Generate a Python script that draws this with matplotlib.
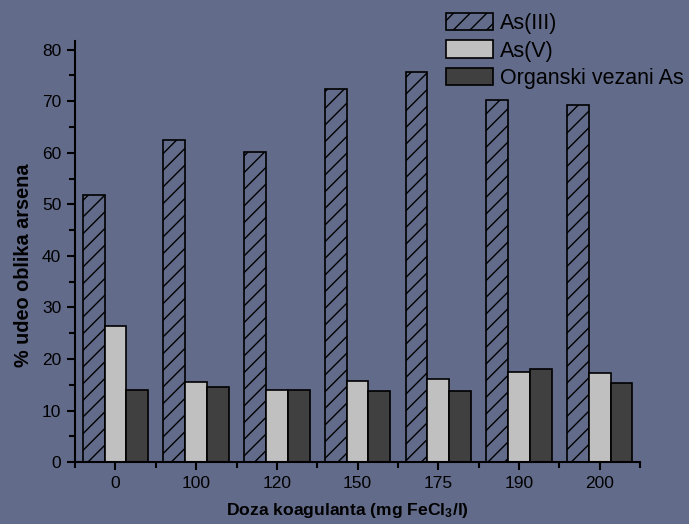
import matplotlib
matplotlib.use('Agg')
import matplotlib.pyplot as plt
import numpy as np
from matplotlib.ticker import MultipleLocator

plt.rcParams['font.family'] = ['Liberation Sans', 'DejaVu Sans']
plt.rcParams['mathtext.default'] = 'regular'
plt.rcParams['hatch.linewidth'] = 1.0

bg = '#626B8A'

doses = ['0', '100', '120', '150', '175', '190', '200']
as3 = [51.9, 62.4, 60.1, 72.3, 75.6, 70.2, 69.2]
as5 = [26.5, 15.5, 14.0, 15.8, 16.2, 17.4, 17.3]
org = [13.9, 14.6, 14.0, 13.8, 13.8, 18.0, 15.4]
labels = ['As(III)', 'As(V)', 'Organski vezani As']

fig = plt.figure(figsize=(6.89, 5.24), dpi=100, facecolor=bg)
ax = fig.add_axes([0.109, 0.118, 0.820, 0.804], facecolor=bg)

x = np.arange(len(doses))
w = 0.27
ax.bar(x - w, as3, w, facecolor='none', edgecolor='black', hatch='//', linewidth=1.2, label=labels[0])
ax.bar(x, as5, w, facecolor='#C0C0C0', edgecolor='black', linewidth=1.2, label=labels[1])
ax.bar(x + w, org, w, facecolor='#404040', edgecolor='black', linewidth=1.2, label=labels[2])

ax.set_xlim(-0.5, 6.5)
ax.set_ylim(0, 81.7)
ax.set_xticks(x)
ax.set_xticklabels(doses)
ax.set_xticks(np.arange(-0.5, 7, 1), minor=True)
ax.yaxis.set_major_locator(MultipleLocator(10))
ax.yaxis.set_minor_locator(MultipleLocator(5))

for s in ['top', 'right']:
    ax.spines[s].set_visible(False)
for s in ['left', 'bottom']:
    ax.spines[s].set_linewidth(1.5)
    ax.spines[s].set_color('black')

ax.tick_params(which='major', direction='out', length=6, width=1.5, labelsize=12.5, colors='black', pad=4)
ax.tick_params(which='minor', direction='out', length=4, width=1.5, colors='black')

ax.set_xlabel('Doza koagulanta (mg FeCl$_3$/l)', fontsize=12.6, fontweight='bold')
ax.set_ylabel('% udeo oblika arsena', fontsize=14.3, fontweight='bold')
ax.xaxis.set_label_coords(0.482, -0.093)
ax.yaxis.set_label_coords(-0.074, 0.468)

leg = fig.legend(loc='upper left', bbox_to_anchor=(0.625, 1.004), frameon=False, fontsize=15.5,
                 handlelength=2.2, handleheight=0.85, labelspacing=0.3, handletextpad=0.3,
                 borderaxespad=0.3)

fig.savefig('out.png', dpi=100, facecolor=bg)
